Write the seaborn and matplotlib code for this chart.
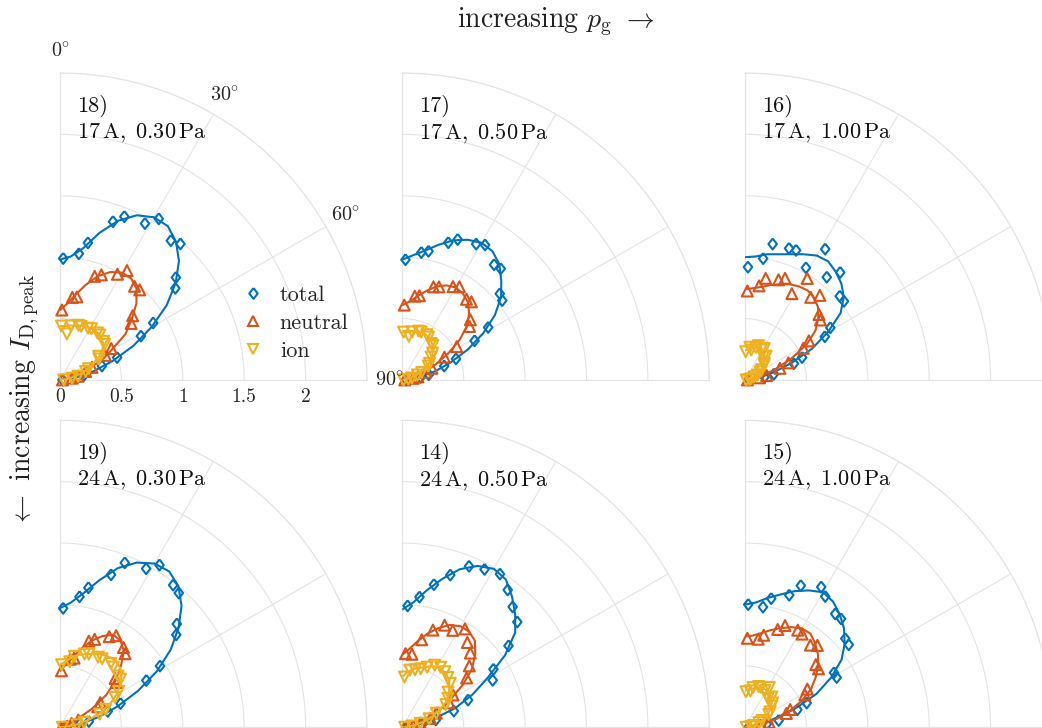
import numpy as np
import matplotlib
matplotlib.use("Agg")
import matplotlib.pyplot as plt
from matplotlib.lines import Line2D
from matplotlib.markers import MarkerStyle
import seaborn as sns

# ---------------------------------------------------------------------------
# Angular grids (degrees from the surface normal)
# ---------------------------------------------------------------------------
ANGLES_A = [1.5, 8.5, 11.5, 18.5, 21.5, 28.5, 31.5, 38.5, 41.5,
            48.5, 51.5, 58.5, 61.5, 68.5, 71.5, 78.5, 81.5, 88.5]
ANGLES_B = [2.5, 7.5, 12.5, 17.5, 22.5, 27.5, 32.5, 37.5, 42.5,
            47.5, 52.5, 57.5, 62.5, 67.5, 72.5, 77.5, 82.5, 87.5]
FIT_ANGLES = [0, 5, 10, 15, 20, 25, 30, 35, 40, 45, 50, 55, 60, 65, 70, 75, 80, 85, 90]

# ---------------------------------------------------------------------------
# Case 18: 17 A, 0.30 Pa
# ---------------------------------------------------------------------------
TOTAL_18 = [0.99, 1.04, 1.14, 1.36, 1.43, 1.45, 1.54, 1.45, 1.48, 1.26, 1.20, 0.89, 0.75, 0.50, 0.36, 0.20, 0.14, 0.02]
NEUTRAL_18 = [0.57, 0.68, 0.69, 0.89, 0.92, 0.98, 1.045, 0.975, 0.98, 0.79, 0.74, 0.49, 0.42, 0.28, 0.22, 0.15, 0.10, 0.02]
ION_18 = [0.44, 0.38, 0.45, 0.47, 0.47, 0.48, 0.49, 0.49, 0.49, 0.475, 0.465, 0.37, 0.36, 0.25, 0.22, 0.15, 0.10, 0.03]
TOTAL_FIT_18 = [0.98, 1.01, 1.09, 1.24, 1.38, 1.48, 1.53, 1.53, 1.47, 1.37, 1.23, 1.06, 0.86, 0.66, 0.46, 0.29, 0.15, 0.06, 0.0]
NEUTRAL_FIT_18 = [0.57, 0.62, 0.70, 0.80, 0.90, 0.97, 1.01, 1.01, 0.97, 0.88, 0.76, 0.65, 0.48, 0.37, 0.20, 0.10, 0.04, 0.015, 0.0]
ION_FIT_18 = [0.44, 0.44, 0.45, 0.46, 0.47, 0.48, 0.49, 0.49, 0.49, 0.48, 0.46, 0.42, 0.36, 0.29, 0.22, 0.15, 0.08, 0.03, 0.0]

# Case 17: 17 A, 0.50 Pa
TOTAL_17 = [0.98, 1.05, 1.07, 1.18, 1.23, 1.26, 1.29, 1.20, 1.21, 1.06, 1.04, 0.82, 0.67, 0.47, 0.36, 0.22, 0.15, 0.03]
NEUTRAL_17 = [0.61, 0.69, 0.70, 0.80, 0.815, 0.865, 0.89, 0.84, 0.85, 0.74, 0.70, 0.52, 0.39, 0.26, 0.20, 0.13, 0.09, 0.02]
ION_17 = [0.39, 0.36, 0.40, 0.42, 0.42, 0.42, 0.41, 0.38, 0.375, 0.33, 0.30, 0.26, 0.24, 0.17, 0.13, 0.08, 0.05, 0.01]
TOTAL_FIT_17 = [0.98, 1.02, 1.07, 1.14, 1.21, 1.26, 1.29, 1.28, 1.23, 1.14, 1.05, 0.92, 0.76, 0.59, 0.42, 0.28, 0.15, 0.06, 0.0]
NEUTRAL_FIT_17 = [0.61, 0.64, 0.69, 0.75, 0.81, 0.85, 0.87, 0.86, 0.83, 0.77, 0.69, 0.57, 0.43, 0.30, 0.19, 0.11, 0.05, 0.02, 0.0]
ION_FIT_17 = [0.39, 0.39, 0.40, 0.41, 0.42, 0.42, 0.41, 0.40, 0.38, 0.35, 0.32, 0.28, 0.24, 0.18, 0.13, 0.08, 0.04, 0.015, 0.0]

# Case 16: 17 A, 1.00 Pa
TOTAL_16 = [0.92, 1.00, 1.13, 1.13, 1.135, 1.04, 1.25, 1.07, 1.17, 1.03, 1.03, 0.815, 0.74, 0.50, 0.42, 0.24, 0.16, 0.03]
NEUTRAL_16 = [0.725, 0.775, 0.845, 0.86, 0.89, 0.80, 0.97, 0.86, 0.92, 0.805, 0.785, 0.61, 0.54, 0.38, 0.30, 0.18, 0.12, 0.02]
ION_16 = [0.23, 0.27, 0.25, 0.28, 0.30, 0.28, 0.30, 0.24, 0.26, 0.21, 0.20, 0.16, 0.14, 0.11, 0.08, 0.05, 0.035, 0.01]
TOTAL_FIT_16 = [1.00, 1.01, 1.04, 1.06, 1.09, 1.13, 1.17, 1.18, 1.15, 1.11, 1.05, 0.95, 0.78, 0.60, 0.40, 0.24, 0.12, 0.05, 0.0]
NEUTRAL_FIT_16 = [0.74, 0.75, 0.77, 0.80, 0.83, 0.86, 0.88, 0.89, 0.875, 0.84, 0.78, 0.70, 0.58, 0.42, 0.27, 0.17, 0.09, 0.03, 0.0]
ION_FIT_16 = [0.24, 0.25, 0.26, 0.27, 0.28, 0.28, 0.28, 0.27, 0.25, 0.23, 0.20, 0.17, 0.14, 0.11, 0.08, 0.05, 0.03, 0.01, 0.0]

# Case 19: 24 A, 0.30 Pa
TOTAL_19 = [0.97, 1.075, 1.16, 1.31, 1.44, 1.47, 1.55, 1.48, 1.46, 1.27, 1.21, 0.955, 0.80, 0.53, 0.41, 0.24, 0.16, 0.03]
NEUTRAL_19 = [0.46, 0.56, 0.575, 0.74, 0.77, 0.84, 0.875, 0.83, 0.80, 0.60, 0.585, 0.385, 0.35, 0.16, 0.10, 0.06, 0.04, 0.01]
ION_19 = [0.51, 0.54, 0.59, 0.63, 0.64, 0.65, 0.655, 0.665, 0.655, 0.63, 0.63, 0.56, 0.51, 0.40, 0.34, 0.20, 0.14, 0.02]
TOTAL_FIT_19 = [0.97, 1.02, 1.11, 1.24, 1.38, 1.48, 1.54, 1.55, 1.50, 1.40, 1.26, 1.10, 0.91, 0.70, 0.50, 0.33, 0.18, 0.07, 0.0]
NEUTRAL_FIT_19 = [0.46, 0.51, 0.58, 0.66, 0.75, 0.82, 0.87, 0.86, 0.81, 0.70, 0.59, 0.46, 0.30, 0.15, 0.08, 0.04, 0.02, 0.01, 0.0]
ION_FIT_19 = [0.51, 0.54, 0.58, 0.61, 0.635, 0.66, 0.685, 0.70, 0.705, 0.69, 0.655, 0.60, 0.53, 0.45, 0.35, 0.25, 0.15, 0.06, 0.0]

# Case 14: 24 A, 0.50 Pa
TOTAL_14 = [0.99, 1.07, 1.19, 1.30, 1.42, 1.45, 1.48, 1.41, 1.33, 1.27, 1.09, 0.88, 0.83, 0.58, 0.44, 0.28, 0.16, 0.04]
NEUTRAL_14 = [0.60, 0.60, 0.73, 0.83, 0.90, 0.89, 0.95, 0.87, 0.82, 0.74, 0.66, 0.49, 0.43, 0.30, 0.24, 0.15, 0.09, 0.02]
ION_14 = [0.41, 0.47, 0.48, 0.50, 0.53, 0.57, 0.58, 0.57, 0.55, 0.53, 0.47, 0.44, 0.40, 0.30, 0.23, 0.15, 0.08, 0.02]
TOTAL_FIT_14 = [0.96, 1.02, 1.13, 1.25, 1.37, 1.45, 1.49, 1.47, 1.39, 1.30, 1.20, 1.02, 0.80, 0.63, 0.46, 0.27, 0.14, 0.05, 0.0]
NEUTRAL_FIT_14 = [0.59, 0.64, 0.71, 0.79, 0.86, 0.92, 0.95, 0.95, 0.92, 0.84, 0.74, 0.60, 0.45, 0.34, 0.24, 0.15, 0.08, 0.03, 0.0]
ION_FIT_14 = [0.41, 0.45, 0.48, 0.50, 0.52, 0.55, 0.57, 0.57, 0.56, 0.54, 0.50, 0.46, 0.41, 0.34, 0.26, 0.18, 0.10, 0.04, 0.0]

# Case 15: 24 A, 1.00 Pa
TOTAL_15 = [1.00, 0.99, 1.07, 1.135, 1.24, 1.30, 1.25, 1.18, 1.18, 1.09, 1.08, 0.85, 0.85, 0.54, 0.45, 0.28, 0.18, 0.03]
NEUTRAL_15 = [0.725, 0.725, 0.765, 0.84, 0.89, 0.90, 0.89, 0.855, 0.89, 0.77, 0.765, 0.595, 0.555, 0.395, 0.355, 0.20, 0.13, 0.03]
ION_15 = [0.29, 0.30, 0.33, 0.35, 0.35, 0.34, 0.38, 0.30, 0.33, 0.30, 0.28, 0.24, 0.22, 0.15, 0.12, 0.07, 0.05, 0.01]
TOTAL_FIT_15 = [1.00, 1.02, 1.07, 1.12, 1.18, 1.23, 1.27, 1.25, 1.20, 1.14, 1.06, 0.96, 0.81, 0.64, 0.42, 0.21, 0.10, 0.04, 0.0]
NEUTRAL_FIT_15 = [0.74, 0.75, 0.78, 0.82, 0.86, 0.90, 0.93, 0.93, 0.89, 0.84, 0.78, 0.70, 0.62, 0.51, 0.39, 0.27, 0.15, 0.06, 0.0]
ION_FIT_15 = [0.30, 0.31, 0.32, 0.33, 0.34, 0.35, 0.35, 0.34, 0.33, 0.31, 0.28, 0.25, 0.21, 0.17, 0.12, 0.08, 0.04, 0.015, 0.0]

# Panel order (rows: discharge current, columns: gas pressure)
CASE_IDS = ["18", "17", "16", "19", "14", "15"]
CURRENTS = ["17", "17", "17", "24", "24", "24"]
PRESSURES = ["0.30", "0.50", "1.00", "0.30", "0.50", "1.00"]
CASE_ANGLES = [ANGLES_A, ANGLES_A, ANGLES_A, ANGLES_A, ANGLES_B, ANGLES_A]
TOTALS = [TOTAL_18, TOTAL_17, TOTAL_16, TOTAL_19, TOTAL_14, TOTAL_15]
NEUTRALS = [NEUTRAL_18, NEUTRAL_17, NEUTRAL_16, NEUTRAL_19, NEUTRAL_14, NEUTRAL_15]
IONS = [ION_18, ION_17, ION_16, ION_19, ION_14, ION_15]
TOTAL_FITS = [TOTAL_FIT_18, TOTAL_FIT_17, TOTAL_FIT_16, TOTAL_FIT_19, TOTAL_FIT_14, TOTAL_FIT_15]
NEUTRAL_FITS = [NEUTRAL_FIT_18, NEUTRAL_FIT_17, NEUTRAL_FIT_16, NEUTRAL_FIT_19, NEUTRAL_FIT_14, NEUTRAL_FIT_15]
ION_FITS = [ION_FIT_18, ION_FIT_17, ION_FIT_16, ION_FIT_19, ION_FIT_14, ION_FIT_15]

SERIES_LABELS = ["total", "neutral", "ion"]
R_TICKS = [0, 0.5, 1, 1.5, 2, 2.5]
R_TICK_LABELS = ["0", "0.5", "1", "1.5", "2", ""]
THETA_TICKS = [0, 30, 60, 90]

# ---------------------------------------------------------------------------
# Style
# ---------------------------------------------------------------------------
sns.set_theme(style="white")
plt.rcParams["font.family"] = ["cmr10", "DejaVu Serif"]
plt.rcParams["mathtext.fontset"] = "cm"
plt.rcParams["axes.unicode_minus"] = False
plt.rcParams["axes.formatter.use_mathtext"] = True

COLORS = ["#0072BD", "#D95319", "#EDB120"]
DIAMOND = MarkerStyle([(0, 1), (0.78, 0), (0, -1), (-0.78, 0), (0, 1)])
MARKERS = [DIAMOND, "^", "v"]
GRID_COLOR = "#e4e4e4"

W, H = 1042, 728
fig = plt.figure(figsize=(W / 100, H / 100), dpi=100)

# quarter-disc panels: origin pixel positions and radius
RADIUS_PX = 307
COL_X = [60, 402.3, 745]
ROW_Y = [380, 727.3]

axes = []
for k in range(6):
    ox = COL_X[k % 3]
    oy = ROW_Y[k // 3]
    ax = fig.add_axes([ox / W, (H - oy) / H, RADIUS_PX / W, RADIUS_PX / H],
                      projection="polar")
    ax.set_facecolor("none")
    ax.set_zorder(10 if k == 0 else 1)
    ax.set_theta_zero_location("N")
    ax.set_theta_direction(-1)
    ax.set_thetamin(0)
    ax.set_thetamax(90)
    ax.set_rlim(0, 2.5)
    ax.set_rticks(R_TICKS)
    first = k == 0
    ax.set_thetagrids(THETA_TICKS,
                      labels=[rf"${t}\!^\circ$" for t in THETA_TICKS] if first else [""] * 4)
    ax.set_yticklabels(R_TICK_LABELS if first else [""] * len(R_TICKS))
    ax.tick_params(axis="y", labelleft=False, labelright=True, length=0,
                   labelsize=14, pad=6)
    ax.tick_params(axis="x", length=0, labelsize=14.5, pad=9)
    ax.grid(True, color=GRID_COLOR, lw=0.8)
    for sp in ax.spines.values():
        sp.set_color(GRID_COLOR)
        sp.set_linewidth(0.8)

    angles = np.deg2rad(CASE_ANGLES[k])
    fit_angles = np.deg2rad(FIT_ANGLES)
    points = [TOTALS[k], NEUTRALS[k], IONS[k]]
    fits = [TOTAL_FITS[k], NEUTRAL_FITS[k], ION_FITS[k]]
    for j in range(3):
        sns.lineplot(x=fit_angles, y=fits[j], ax=ax, color=COLORS[j], lw=1.5,
                     sort=False, estimator=None, zorder=3 + 2 * j)
        sns.scatterplot(x=angles, y=points[j], ax=ax, marker=MARKERS[j], s=62,
                        facecolor="none", edgecolor=COLORS[j], linewidth=1.5,
                        clip_on=False, zorder=4 + 2 * j)
    ax.set_xlabel("")
    ax.set_ylabel("")

    ax.text(0.055, 0.93,
            f"{CASE_IDS[k]})\n" + rf"${CURRENTS[k]}\,\mathrm{{A}},\ {PRESSURES[k]}\,\mathrm{{Pa}}$",
            transform=ax.transAxes, ha="left", va="top", fontsize=16,
            linespacing=1.25, color="#111111")
    axes.append(ax)

# legend in the first panel
handles = [Line2D([], [], ls="none", marker=MARKERS[j], mfc="none", mec=COLORS[j],
                  mew=1.5, ms=7.8) for j in range(3)]
axes[0].legend(handles, SERIES_LABELS, loc="center left", bbox_to_anchor=(0.593, 0.186),
               frameon=False, fontsize=16, handlelength=1.0, handletextpad=0.7,
               labelspacing=0.38, borderpad=0, borderaxespad=0)

fig.text(556 / W, 1 - 22 / H, r"increasing $p_\mathrm{g}$ $\rightarrow$",
         ha="center", va="center", fontsize=20, color="#222222")
fig.text(25 / W, 1 - 400 / H, r"$\leftarrow$ increasing $I_\mathrm{D,peak}$",
         ha="center", va="center", rotation=90, fontsize=20, color="#222222")

fig.savefig("out.png", dpi=100)
